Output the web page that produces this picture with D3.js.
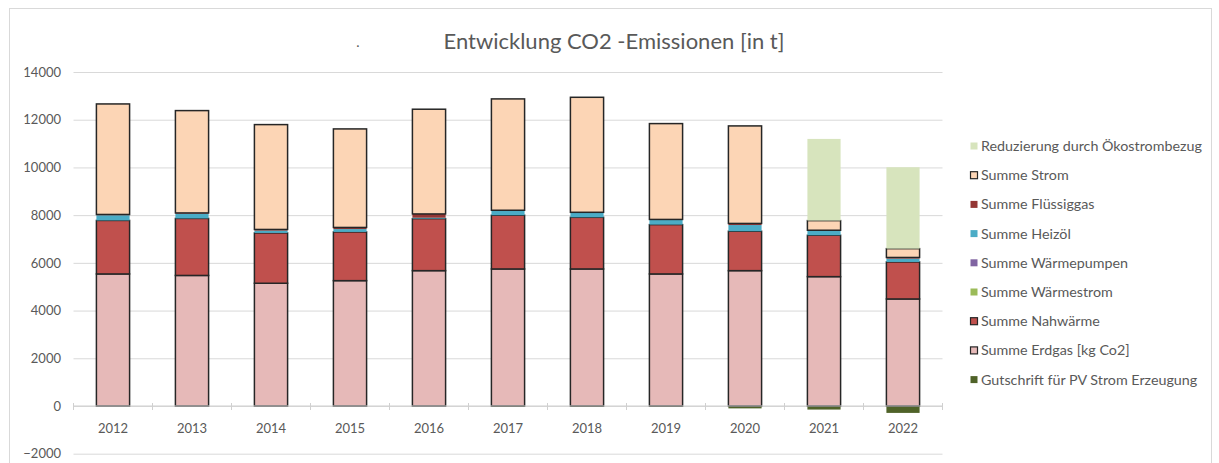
<!DOCTYPE html>
<html><head><meta charset="utf-8">
<script src="https://cdn.jsdelivr.net/npm/d3@7"></script>
<style>
body{margin:0;background:#fff;}
svg{display:block;}
text{font-family:Lato,"Open Sans",sans-serif;}
</style>
</head><body>
<svg id="chart" width="1219" height="463"></svg>
<script>
// ---- data ----
const years = ["2012","2013","2014","2015","2016","2017","2018","2019","2020","2021","2022"];
const gutschriftPV  = [0, 0, 0, 0, 0, -30, -30, -30, -100, -150, -290];
const erdgas        = [5535, 5472, 5145, 5254, 5673, 5744, 5744, 5535, 5673, 5422, 4486];
const nahwaerme     = [2243, 2390, 2109, 2042, 2180, 2252, 2165, 2067, 1652, 1735, 1552];
const waermestrom   = [0, 0, 0, 0, 0, 0, 0, 0, 0, 0, 0];
const waermepumpen  = [0, 0, 0, 0, 0, 0, 0, 0, 0, 0, 0];
const heizoel       = [220, 200, 100, 120, 40, 190, 190, 200, 260, 190, 140];
const fluessiggas   = [30, 30, 46, 68, 157, 19, 20, 18, 67, 20, 48];
const strom         = [4633, 4290, 4395, 4130, 4390, 4667, 4821, 4017, 4088, 403, 369];
const reduzierung   = [0, 0, 0, 0, 0, 0, 0, 0, 0, 3425, 3413];
const yTicks = [-2000, 0, 2000, 4000, 6000, 8000, 10000, 12000, 14000];
const title = "Entwicklung CO2 -Emissionen [in t]";

const series = [
  {key:"gutschrift",   name:"Gutschrift für PV Strom Erzeugung", values:gutschriftPV, color:"#4F6228", border:false},
  {key:"erdgas",       name:"Summe Erdgas [kg Co2]",             values:erdgas,       color:"#E6B9B8", border:true},
  {key:"nahwaerme",    name:"Summe Nahwärme",                    values:nahwaerme,    color:"#C0504D", border:true},
  {key:"waermestrom",  name:"Summe Wärmestrom",                  values:waermestrom,  color:"#9BBB59", border:false},
  {key:"waermepumpen", name:"Summe Wärmepumpen",                 values:waermepumpen, color:"#8064A2", border:false},
  {key:"heizoel",      name:"Summe Heizöl",                      values:heizoel,      color:"#4BACC6", border:false},
  {key:"fluessiggas",  name:"Summe Flüssiggas",                  values:fluessiggas,  color:"#943634", border:false},
  {key:"strom",        name:"Summe Strom",                       values:strom,        color:"#FCD5B5", border:true},
  {key:"reduzierung",  name:"Reduzierung durch Ökostrombezug",   values:reduzierung,  color:"#D7E4BD", border:false}
];

const table = years.map((y,i)=>{
  const row = {year:y};
  series.forEach(s=>row[s.key]=s.values[i]);
  return row;
});

// ---- layout ----
const svg = d3.select("#chart");
const plot = {left:73.5, right:942.5, top:72, bottom:453.7};

svg.append("rect").attr("x",9.5).attr("y",8.5).attr("width",1202).attr("height",470)
  .attr("fill","#fff").attr("stroke","#d9d9d9").attr("stroke-width",1);

const x = d3.scaleBand().domain(years).range([plot.left, plot.right])
  .paddingInner(0.58).paddingOuter(0.29);
const y = d3.scaleLinear().domain([-2000, 14000]).range([plot.bottom, plot.top]);

// gridlines
const grid = svg.append("g").attr("transform",`translate(${plot.left},0)`)
  .call(d3.axisLeft(y).tickValues(yTicks).tickSize(-(plot.right-plot.left)).tickFormat(""));
grid.select(".domain").remove();
grid.selectAll("line").attr("stroke","#d9d9d9").attr("stroke-width",1);

// y labels
const yAx = svg.append("g").attr("transform",`translate(61,0)`)
  .call(d3.axisLeft(y).tickValues(yTicks).tickSize(0).tickPadding(0).tickFormat(d3.format("d")));
yAx.select(".domain").remove();
yAx.selectAll("text").attr("fill","#595959").style("font-size","13px").style("font-family","Lato");

// stacked bars
const stack = d3.stack().keys(series.map(s=>s.key)).offset(d3.stackOffsetDiverging);
const stacked = stack(table);

const barsG = svg.append("g");
stacked.forEach((layer,li)=>{
  const s = series[li];
  barsG.append("g").selectAll("rect").data(layer.filter(d=>d[1]!==d[0])).join("rect")
    .attr("x", d=>x(d.data.year))
    .attr("width", x.bandwidth())
    .attr("y", d=>y(Math.max(d[0],d[1])))
    .attr("height", d=>Math.abs(y(d[0])-y(d[1])))
    .attr("fill", s.color)
    .attr("stroke", s.border ? "#262626" : "none")
    .attr("stroke-width", s.border ? 1.5 : 0);
});

// x axis line + ticks + labels
const xAx = svg.append("g").attr("transform",`translate(0,${y(0)})`)
  .call(d3.axisBottom(x).tickSize(0).tickPadding(18));
xAx.select(".domain").attr("stroke","#d0d0d0").attr("d",`M${plot.left},0H${plot.right}`);
xAx.selectAll("text").attr("fill","#595959").style("font-size","13px").style("font-family","Lato");
const bounds = years.map((d,i)=>plot.left + i*x.step()).concat([plot.right]);
svg.append("g").selectAll("line").data(bounds).join("line")
  .attr("x1",d=>d).attr("x2",d=>d).attr("y1",y(0)-3).attr("y2",y(0)+4)
  .attr("stroke","#d0d0d0").attr("stroke-width",1);

// title
svg.append("text").attr("x",614).attr("y",49).attr("text-anchor","middle")
  .attr("fill","#595959").style("font-size","22px").text(title);
svg.append("text").attr("x",358).attr("y",47).attr("text-anchor","middle")
  .attr("fill","#595959").style("font-size","14px").text(".");

// legend
const legend = svg.append("g");
const legendItems = series.slice().reverse();
legendItems.forEach((s,i)=>{
  const cy = 146 + i*29.2;
  legend.append("rect").attr("x",970.5).attr("y",cy-3.5).attr("width",7).attr("height",7)
    .attr("fill",s.color).attr("stroke", s.border ? "#262626" : "none").attr("stroke-width",1.2);
  legend.append("text").attr("x",981).attr("y",cy).attr("dy","0.35em")
    .attr("fill","#595959").style("font-size","14.3px").text(s.name);
});
</script>
</body></html>
